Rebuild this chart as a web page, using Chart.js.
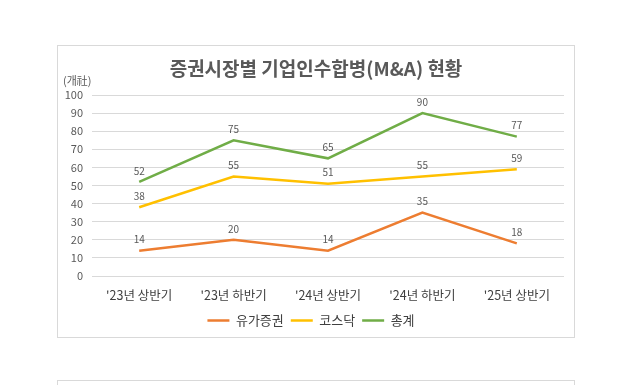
<!DOCTYPE html>
<html>
<head>
<meta charset="utf-8">
<script src="https://cdn.jsdelivr.net/npm/chart.js@4"></script>
<style>
  html, body { margin: 0; padding: 0; background: #fff; }
  .box { position: absolute; left: 57px; width: 516px; border: 1px solid #d9d9d9; background: #fff; }
  #chartBox { top: 45px; height: 291px; }
  #nextBox { top: 380px; height: 20px; }
</style>
</head>
<body>
<div class="box" id="chartBox"><canvas id="mna" width="516" height="291"></canvas></div>
<div class="box" id="nextBox"></div>
<script>
"use strict";

const periods = ["'23년 상반기", "'23년 하반기", "'24년 상반기", "'24년 하반기", "'25년 상반기"];
const kospi = [14, 20, 14, 35, 18];
const kosdaq = [38, 55, 51, 55, 59];
const total = [52, 75, 65, 90, 77];
const yTicks = [0, 10, 20, 30, 40, 50, 60, 70, 80, 90, 100];

const FONT = "'Noto Sans CJK KR', 'Noto Sans', sans-serif";
const GRAY = "#595959";
const DARK = "#404040";

// titles and values above points
const textPlugin = {
    id: "texts",
    afterDraw(chart) {
        const ctx = chart.ctx;
        ctx.save();
        ctx.fillStyle = GRAY;
        ctx.textAlign = "center";
        ctx.textBaseline = "middle";
        ctx.font = "bold 19px " + FONT;
        ctx.fillText("증권시장별 기업인수합병(M&A) 현황", chart.width / 2, 23);
        ctx.font = "11px " + FONT;
        ctx.textAlign = "left";
        ctx.fillText("(개社)", 5, 35);
        ctx.font = "10px " + FONT;
        chart.data.datasets.forEach((ds, i) => {
            chart.getDatasetMeta(i).data.forEach((pt, j) => {
                ctx.textAlign = "center";
                ctx.fillText(String(ds.data[j]), pt.x, pt.y - 11);
            });
        });
        ctx.restore();
    }
};

function line(label, data, color) {
    return {
        label: label,
        data: data,
        borderColor: color,
        backgroundColor: color,
        borderWidth: 2.5,
        pointRadius: 0,
        tension: 0
    };
}

new Chart(document.getElementById("mna").getContext("2d"), {
    type: "line",
    data: {
        labels: periods,
        datasets: [
            line("유가증권", kospi, "#ED7D31"),
            line("코스닥", kosdaq, "#FFC000"),
            line("총계", total, "#70AD47")
        ]
    },
    options: {
        responsive: false,
        animation: false,
        layout: { padding: { top: 49, right: 10, bottom: 0, left: 0 } },
        scales: {
            x: {
                offset: true,
                grid: { display: false },
                border: { display: false },
                ticks: { color: DARK, font: { family: FONT, size: 12.5 }, padding: 4, maxRotation: 0 }
            },
            y: {
                min: 0,
                max: 100,
                afterBuildTicks: s => { s.ticks = yTicks.map(v => ({ value: v })); },
                afterFit: s => { s.width = 34; },
                grid: { color: "#d9d9d9", drawTicks: false },
                border: { display: false },
                ticks: { color: GRAY, font: { family: FONT, size: 11 }, padding: 9 }
            }
        },
        plugins: {
            legend: {
                position: "bottom",
                labels: {
                    color: DARK,
                    font: { family: FONT, size: 13 },
                    usePointStyle: true,
                    pointStyleWidth: 22,
                    pointStyle: "line",
                    padding: 7
                }
            },
            tooltip: { enabled: false }
        }
    },
    plugins: [textPlugin]
});
</script>
</body>
</html>
